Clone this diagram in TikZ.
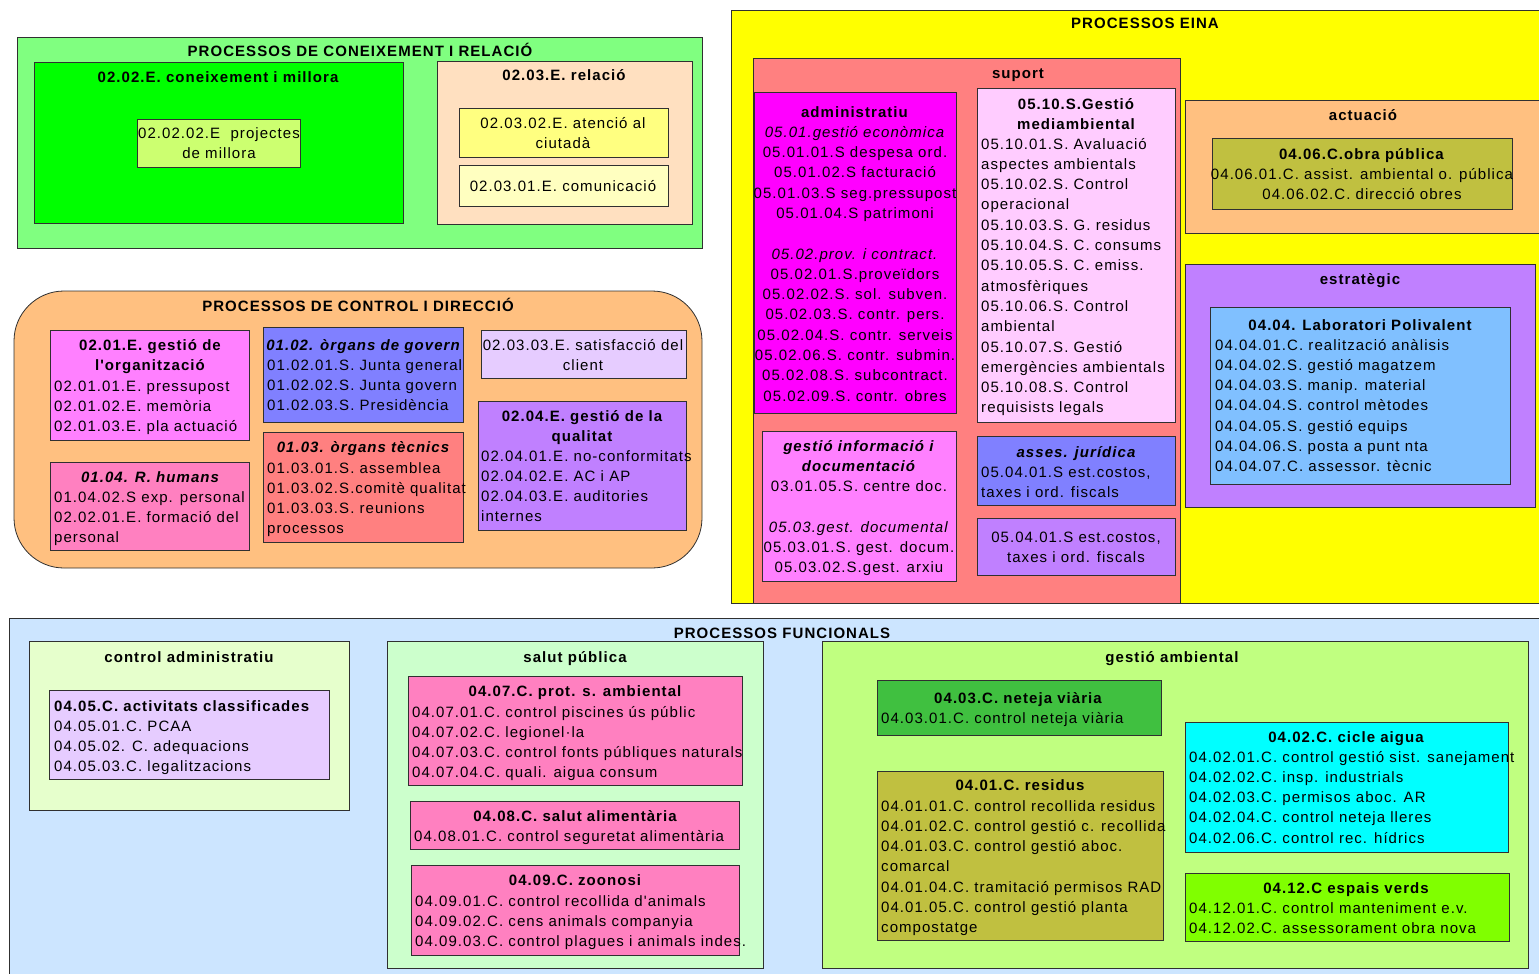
\documentclass[tikz,border=0pt]{standalone}
\usepackage{fontspec}
\setmainfont{Liberation Sans}[LetterSpace=7, Ligatures=TeXOff]
\usetikzlibrary{fit}
% fills
\definecolor{kgreen}{HTML}{80FF80}
\definecolor{vgreen}{HTML}{00FF00}
\definecolor{lime}{HTML}{CCFF70}
\definecolor{peach}{HTML}{FFE0C0}
\definecolor{lyellow}{HTML}{FFFF80}
\definecolor{pyellow}{HTML}{FFFFC0}
\definecolor{orange}{HTML}{FFC080}
\definecolor{pinkv}{HTML}{FF80FF}
\definecolor{blue}{HTML}{8080FF}
\definecolor{lav}{HTML}{E6CCFF}
\definecolor{rose}{HTML}{FF80C0}
\definecolor{salmon}{HTML}{FF8080}
\definecolor{violet}{HTML}{C080FF}
\definecolor{yellow}{HTML}{FFFF00}
\definecolor{magenta}{HTML}{FF00FF}
\definecolor{ppink}{HTML}{FFCCFF}
\definecolor{olive}{HTML}{C0C040}
\definecolor{sky}{HTML}{80C0FF}
\definecolor{pblue}{HTML}{CCE5FF}
\definecolor{pgreen}{HTML}{E6FFCC}
\definecolor{mint}{HTML}{CCFFCC}
\definecolor{yg}{HTML}{C0FF80}
\definecolor{dgreen}{HTML}{40C040}
\definecolor{cyan}{HTML}{00FFFF}
\definecolor{chart}{HTML}{80FF00}
\definecolor{bord}{HTML}{303030}
\newcommand\basefont{\fontsize{15}{20.3}\selectfont}
% text blocks whose baseline is that of their first line
\newcommand\lft[1]{\begin{tabular}[t]{@{}l@{}}#1\end{tabular}}
\newcommand\ctr[1]{\begin{tabular}[t]{@{}c@{}}#1\end{tabular}}
\begin{document}
\begin{tikzpicture}[x=1pt,y=-1pt,
  every node/.style={font=\basefont},
  bx/.style={draw=bord, line width=0.8pt, inner sep=0pt, outer sep=0pt, rectangle},
  tl/.style={inner sep=0pt, anchor=base, font=\basefont\bfseries},
  tli/.style={inner sep=0pt, anchor=base, font=\basefont\bfseries\itshape},
  tx/.style={inner sep=0pt, anchor=base west},
  tc/.style={inner sep=0pt, anchor=base}]
\useasboundingbox (0,0) rectangle (1539,974);

% ---------- coneixement i relacio ----------
\node[bx, fill=kgreen, fit={(17,37)(702,248)}] (kr) {};
\node[tl] (krt) at (360,57) {PROCESSOS DE CONEIXEMENT I RELACIÓ};
\node[bx, fill=vgreen, fit={(34,62)(403,223)}] (cm) {};
\node[tl] (cmt) at (218,82) {02.02.E. coneixement i millora};
\node[bx, fill=lime, fit={(137,119)(300,167)}] (pm) {};
\node[tc] (pmt) at (219,138) {\ctr{02.02.02.E\ \ projectes\\de millora}};
\node[bx, fill=peach, fit={(437,61)(692,224)}] (rel) {};
\node[tl] (relt) at (564,81) {02.03.E. relació};
\node[bx, fill=lyellow, fit={(459,108)(668,157)}] (at) {};
\node[tc] (att) at (563,128) {\ctr{02.03.02.E. atenció al\\ciutadà}};
\node[bx, fill=pyellow, fit={(459,165)(668,206)}] (co) {};
\node[tc] (cot) at (563,191) {02.03.01.E. comunicació};

% ---------- control i direccio ----------
\node[bx, fill=orange, rounded corners=50pt, fit={(14,291)(702,568)}] (cd) {};
\node[tl] (cdt) at (358,311) {PROCESSOS DE CONTROL I DIRECCIÓ};
\node[bx, fill=pinkv, fit={(50,330)(249,440)}] (go) {};
\node[tl] (got) at (150,350) {\ctr{02.01.E. gestió de\\l'organització}};
\node[tx] (goi) at (54,391) {\lft{02.01.01.E. pressupost\\02.01.02.E. memòria\\02.01.03.E. pla actuació}};
\node[bx, fill=blue, fit={(263,327)(463,422)}] (og) {};
\node[tli] (ogt) at (363,350) {01.02. òrgans de govern};
\node[tx] (ogi) at (267,370) {\lft{01.02.01.S. Junta general\\01.02.02.S. Junta govern\\01.02.03.S. Presidència}};
\node[bx, fill=lav, fit={(481,330)(686,378)}] (sc) {};
\node[tc] (sct) at (583,350) {\ctr{02.03.03.E. satisfacció del\\client}};
\node[bx, fill=rose, fit={(50,462)(249,550)}] (rh) {};
\node[tli] (rht) at (150,482) {01.04. R. humans};
\node[tx] (rhi) at (54,502) {\lft{01.04.02.S exp. personal\\02.02.01.E. formació del\\personal}};
\node[bx, fill=salmon, fit={(263,432)(463,542)}] (ot) {};
\node[tli] (ott) at (363,452) {01.03. òrgans tècnics};
\node[tx] (oti) at (267,473) {\lft{01.03.01.S. assemblea\\01.03.02.S.comitè qualitat\\01.03.03.S. reunions\\processos}};
\node[bx, fill=violet, fit={(478,401)(686,530)}] (gq) {};
\node[tl] (gqt) at (582,421) {\ctr{02.04.E. gestió de la\\qualitat}};
\node[tx] (gqi) at (481,461) {\lft{02.04.01.E. no-conformitats\\02.04.02.E. AC i AP\\02.04.03.E. auditories\\internes}};

% ---------- processos eina ----------
\node[bx, fill=yellow, fit={(731,10)(1545,603)}] (ei) {};
\node[tl] (eit) at (1145,29) {PROCESSOS EINA};
\node[bx, fill=salmon, fit={(753,58)(1180,603)}] (su) {};
\node[tl] (sut) at (1018,78) {suport};
\node[bx, fill=magenta, fit={(754,92)(956,413)}] (ad) {};
\node[tc] (adt) at (855,117) {\ctr{\textbf{administratiu}\\\textit{05.01.gestió econòmica}\\05.01.01.S despesa ord.\\05.01.02.S facturació\\05.01.03.S seg.pressupost\\05.01.04.S patrimoni\\ \\\textit{05.02.prov. i contract.}\\05.02.01.S.proveïdors\\05.02.02.S. sol. subven.\\05.02.03.S. contr. pers.\\05.02.04.S. contr. serveis\\05.02.06.S. contr. submin.\\05.02.08.S. subcontract.\\05.02.09.S. contr. obres}};
\node[bx, fill=ppink, fit={(977,88)(1175,422)}] (gm) {};
\node[tl] (gmt) at (1076,109) {\ctr{05.10.S.Gestió\\mediambiental}};
\node[tx] (gmi) at (981,149) {\lft{05.10.01.S. Avaluació\\aspectes ambientals\\05.10.02.S. Control\\operacional\\05.10.03.S. G. residus\\05.10.04.S. C. consums\\05.10.05.S. C. emiss.\\atmosfèriques\\05.10.06.S. Control\\ambiental\\05.10.07.S. Gestió\\emergències ambientals\\05.10.08.S. Control\\requisists legals}};
\node[bx, fill=pinkv, fit={(762,431)(956,581)}] (gi) {};
\node[tc] (git) at (859,451) {\ctr{\textbf{\textit{gestió informació i}}\\\textbf{\textit{documentació}}\\03.01.05.S. centre doc.\\ \\\textit{05.03.gest. documental}\\05.03.01.S. gest. docum.\\05.03.02.S.gest. arxiu}};
\node[bx, fill=blue, fit={(977,436)(1175,505)}] (aj) {};
\node[tli] (ajt) at (1076,457) {asses. jurídica};
\node[tx] (aji) at (981,477) {\lft{05.04.01.S est.costos,\\taxes i ord. fiscals}};
\node[bx, fill=violet, fit={(977,518)(1175,575)}] (ec) {};
\node[tc] (ect) at (1076,542) {\ctr{05.04.01.S est.costos,\\taxes i ord. fiscals}};
\node[bx, fill=orange, fit={(1185,100)(1545,233)}] (ac) {};
\node[tl] (act) at (1363,120) {actuació};
\node[bx, fill=olive, fit={(1212,138)(1512,209)}] (op) {};
\node[tc] (opt) at (1362,159) {\ctr{\textbf{04.06.C.obra pública}\\04.06.01.C. assist. ambiental o. pública\\04.06.02.C. direcció obres}};
\node[bx, fill=violet, fit={(1185,264)(1535,507)}] (es) {};
\node[tl] (est) at (1360,284) {estratègic};
\node[bx, fill=sky, fit={(1210,307)(1510,484)}] (lp) {};
\node[tl] (lpt) at (1360,330) {04.04. Laboratori Polivalent};
\node[tx] (lpi) at (1215,350) {\lft{04.04.01.C. realització anàlisis\\04.04.02.S. gestió magatzem\\04.04.03.S. manip. material\\04.04.04.S. control mètodes\\04.04.05.S. gestió equips\\04.04.06.S. posta a punt nta\\04.04.07.C. assessor. tècnic}};

% ---------- processos funcionals ----------
\node[bx, fill=pblue, fit={(9,618)(1545,985)}] (fu) {};
\node[tl] (fut) at (782,638) {PROCESSOS FUNCIONALS};
\node[bx, fill=pgreen, fit={(29,641)(349,810)}] (ca) {};
\node[tl] (cat) at (189,662) {control administratiu};
\node[bx, fill=lav, fit={(49,690)(329,779)}] (acl) {};
\node[tx] (acli) at (54,711) {\lft{\textbf{04.05.C. activitats classificades}\\04.05.01.C. PCAA\\04.05.02. C. adequacions\\04.05.03.C. legalitzacions}};
\node[bx, fill=mint, fit={(387,641)(763,968)}] (sp) {};
\node[tl] (spt) at (575,662) {salut pública};
\node[bx, fill=rose, fit={(408,676)(742,785)}] (pa) {};
\node[tl] (pat) at (575,696) {04.07.C. prot. s. ambiental};
\node[tx] (pai) at (412,717) {\lft{04.07.01.C. control piscines ús públic\\04.07.02.C. legionel·la\\04.07.03.C. control fonts públiques naturals\\04.07.04.C. quali. aigua consum}};
\node[bx, fill=rose, fit={(410,801)(739,849)}] (sa) {};
\node[tl] (sat) at (575,821) {04.08.C. salut alimentària};
\node[tx] (sai) at (414,841) {04.08.01.C. control seguretat alimentària};
\node[bx, fill=rose, fit={(411,865)(739,955)}] (zo) {};
\node[tl] (zot) at (575,885) {04.09.C. zoonosi};
\node[tx] (zoi) at (415,906) {\lft{04.09.01.C. control recollida d'animals\\04.09.02.C. cens animals companyia\\04.09.03.C. control plagues i animals indes.}};
\node[bx, fill=yg, fit={(822,641)(1528,968)}] (ga) {};
\node[tl] (gat) at (1172,662) {gestió ambiental};
\node[bx, fill=dgreen, fit={(877,680)(1161,735)}] (nv) {};
\node[tl] (nvt) at (1018,703) {04.03.C. neteja viària};
\node[tx] (nvi) at (881,723) {04.03.01.C. control neteja viària};
\node[bx, fill=olive, fit={(877,771)(1163,940)}] (re) {};
\node[tl] (ret) at (1020,790) {04.01.C. residus};
\node[tx] (rei) at (881,811) {\lft{04.01.01.C. control recollida residus\\04.01.02.C. control gestió c. recollida\\04.01.03.C. control gestió aboc.\\comarcal\\04.01.04.C. tramitació permisos RAD\\04.01.05.C. control gestió planta\\compostatge}};
\node[bx, fill=cyan, fit={(1185,722)(1508,852)}] (cw) {};
\node[tl] (cwt) at (1346,742) {04.02.C. cicle aigua};
\node[tx] (cwi) at (1189,762) {\lft{04.02.01.C. control gestió sist. sanejament\\04.02.02.C. insp. industrials\\04.02.03.C. permisos aboc. AR\\04.02.04.C. control neteja lleres\\04.02.06.C. control rec. hídrics}};
\node[bx, fill=chart, fit={(1185,873)(1509,941)}] (ev) {};
\node[tl] (evt) at (1346,893) {04.12.C espais verds};
\node[tx] (evi) at (1189,913) {\lft{04.12.01.C. control manteniment e.v.\\04.12.02.C. assessorament obra nova}};
\end{tikzpicture}
\end{document}
